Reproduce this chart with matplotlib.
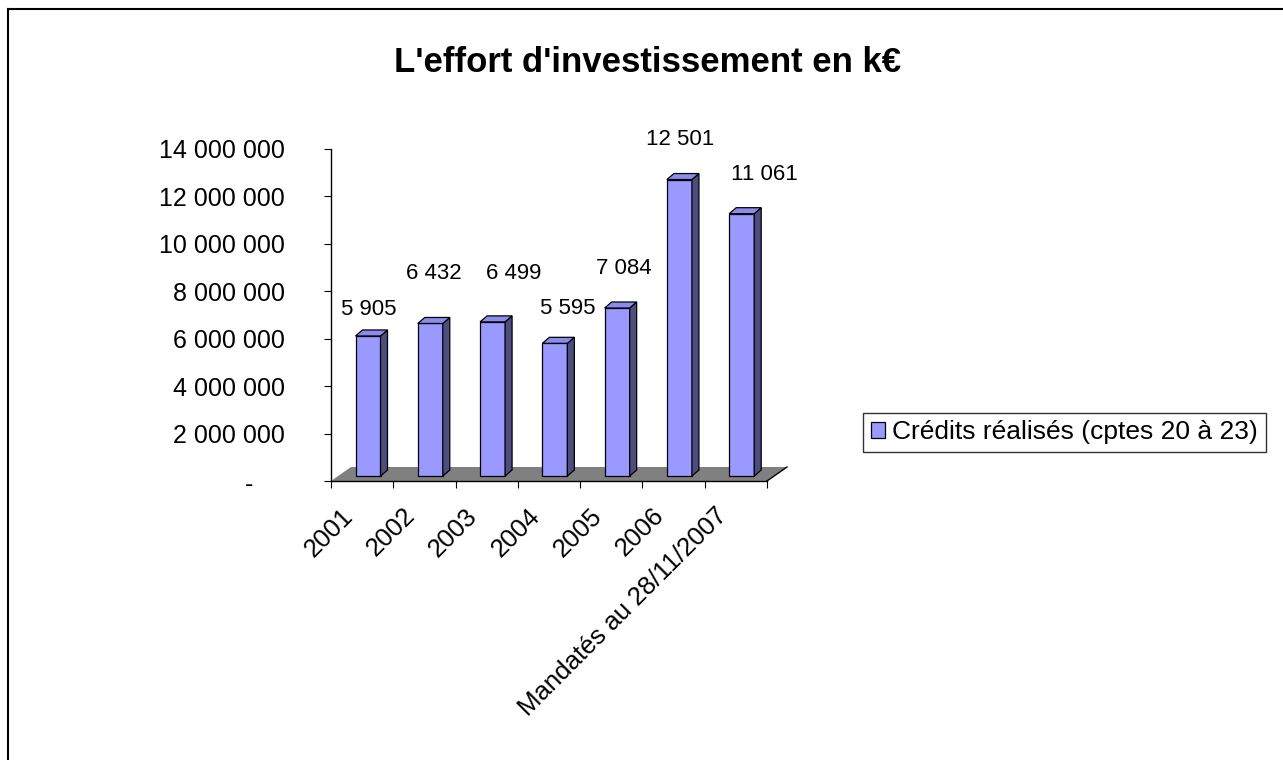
import matplotlib
matplotlib.use("Agg")
import matplotlib.pyplot as plt
from matplotlib.patches import Polygon, Patch
from matplotlib.lines import Line2D

plt.rcParams['font.family'] = ['Liberation Sans', 'DejaVu Sans']

# ---------------- data ----------------
title = "L'effort d'investissement en k€"
categories = ["2001", "2002", "2003", "2004", "2005", "2006", "Mandatés au 28/11/2007"]
values = [5905e3, 6432e3, 6499e3, 5595e3, 7084e3, 12501e3, 11061e3]
series_name = "Crédits réalisés (cptes 20 à 23)"
y_ticks = [0, 2e6, 4e6, 6e6, 8e6, 10e6, 12e6, 14e6]

# ---------------- layout (pixels) ----------------
FIG_W, FIG_H, DPI = 1283, 760, 100
AX_L, AX_R, AX_T, AX_B = 331, 767, 149, 481
FLOOR_DX, FLOOR_DY = 20, 14
BAR_OFF, BAR_W = 24.5, 25
BAR_DX, BAR_DY = 7, 6
BAR_BASE = 5
label_offsets_px = [(1, 26), (4, 50), (21, 48), (13, 35), (7, 40), (1, 40), (23, 39)]

FRONT = '#9999FF'
SIDE = '#4D4D80'
TOP = '#8C8CEC'
FLOOR = '#808080'

fig = plt.figure(figsize=(FIG_W / DPI, FIG_H / DPI), dpi=DPI)
ax = fig.add_axes([AX_L / FIG_W, 1 - AX_B / FIG_H,
                   (AX_R - AX_L) / FIG_W, (AX_B - AX_T) / FIG_H])
n = len(categories)
ymax = y_ticks[-1]
ax.set_xlim(0, n)
ax.set_ylim(0, ymax)
ux = n / (AX_R - AX_L)          # data units per pixel (x)
uy = ymax / (AX_B - AX_T)       # data units per pixel (y)

# floor
fdx, fdy = FLOOR_DX * ux, FLOOR_DY * uy
floor = Polygon([(0, 0), (fdx, fdy), (n + fdx, fdy), (n, 0)], closed=True,
                facecolor=FLOOR, edgecolor='none', clip_on=False, zorder=1)
ax.add_patch(floor)
ax.plot([n, n + fdx], [0, fdy], color='black', lw=1.0, clip_on=False, zorder=2)

# bars
base = BAR_BASE * uy
left = [i + BAR_OFF * ux for i in range(n)]
bw = BAR_W * ux
bdx, bdy = BAR_DX * ux, BAR_DY * uy
bars = ax.bar(left, values, width=bw, bottom=base, align='edge',
              color=FRONT, edgecolor='black', linewidth=0.9, zorder=3)
for xl, v in zip(left, values):
    top = base + v
    xr = xl + bw
    ax.add_patch(Polygon([(xr, base), (xr + bdx, base + bdy), (xr + bdx, top + bdy), (xr, top)],
                         closed=True, facecolor=SIDE, edgecolor='black', lw=0.9,
                         clip_on=False, zorder=3))
    ax.add_patch(Polygon([(xl, top), (xl + bdx, top + bdy), (xr + bdx, top + bdy), (xr, top)],
                         closed=True, facecolor=TOP, edgecolor='black', lw=0.9,
                         clip_on=False, zorder=3))

# value labels
for xl, v, (dx, dy) in zip(left, values, label_offsets_px):
    txt = f"{v / 1000:,.0f}".replace(",", " ")
    ax.annotate(txt, xy=(xl + bw / 2, base + v), xytext=(dx * 0.72, dy * 0.72),
                textcoords='offset points', ha='center', va='center',
                fontsize=16, color='black', annotation_clip=False)

# spines & ticks
for s in ['top', 'right']:
    ax.spines[s].set_visible(False)
ax.spines['left'].set_linewidth(1.0)
ax.spines['bottom'].set_linewidth(1.0)
ax.patch.set_visible(False)

ax.set_yticks(y_ticks)
ax.set_yticklabels([""] + [f"{t:,.0f}".replace(",", " ") for t in y_ticks[1:]])
ax.tick_params(axis='y', direction='out', length=7 * 0.72, width=0.8,
               pad=39 * 0.72, labelsize=18, colors='black')
ax.annotate("-", xy=(0, 0), xycoords=('axes fraction', 'data'),
            xytext=(-78 * 0.72, -4 * 0.72), textcoords='offset points',
            ha='right', va='center', fontsize=18, annotation_clip=False)

ax.set_xticks(range(n + 1))
ax.tick_params(axis='x', direction='out', length=7 * 0.72, width=0.8,
               labelbottom=False)
for i, c in enumerate(categories):
    ax.annotate(c, xy=(i + 0.5, 0), xycoords=('data', 'axes fraction'),
                xytext=(-13 * 0.72, -31 * 0.72), textcoords='offset points',
                rotation=45, rotation_mode='anchor', ha='right', va='center',
                fontsize=18.5, annotation_clip=False)

# title
fig.text(648 / FIG_W, 1 - 62 / FIG_H, title, ha='center', va='center',
         fontsize=25, fontweight='bold')

# legend
handle = Patch(facecolor=FRONT, edgecolor='black', linewidth=0.9)
leg = fig.legend([handle], [series_name], loc='center left',
                 bbox_to_anchor=(863 / FIG_W, 1 - 432.5 / FIG_H),
                 fontsize=19, frameon=True, fancybox=False, shadow=False,
                 handlelength=0.55, handleheight=0.55, handletextpad=0.25,
                 borderpad=0.3, borderaxespad=0)
leg.get_frame().set_edgecolor('black')
leg.get_frame().set_linewidth(1.0)

# outer chart border (top & left visible)
fig.add_artist(Line2D([8 / FIG_W, 8 / FIG_W], [1 - 9 / FIG_H, 0], color='black', lw=1.5))
fig.add_artist(Line2D([8 / FIG_W, 1], [1 - 9 / FIG_H, 1 - 9 / FIG_H], color='black', lw=1.5))

fig.savefig("out.png", dpi=DPI)
